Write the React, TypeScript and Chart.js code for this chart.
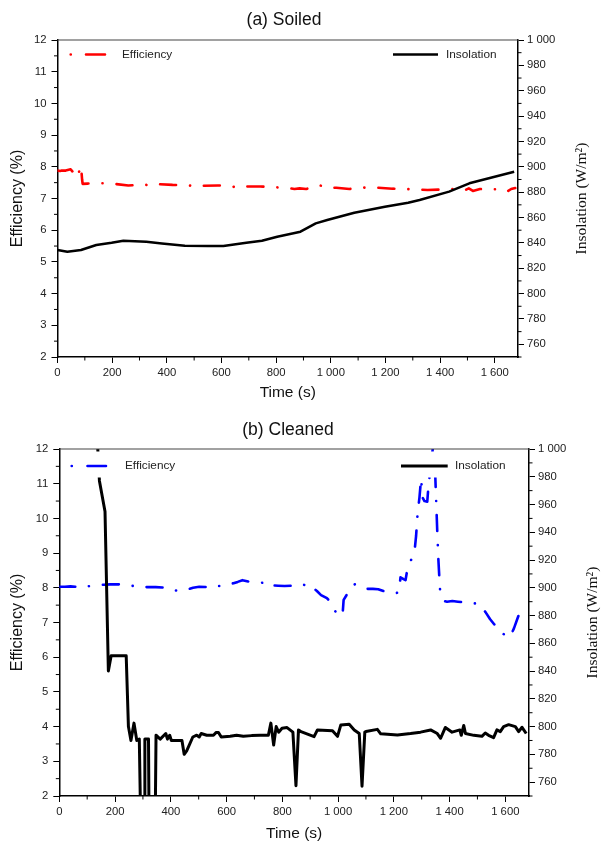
import React, { useEffect, useRef } from 'react';
import { Chart, registerables } from 'chart.js';

Chart.register(...registerables);

// ---------- (a) Soiled ----------
const soiledEffTime = [0, 10, 15, 30, 48, 55, 62, 70, 78, 86, 90, 92, 110, 143, 170, 190, 210, 259, 280, 307, 320, 330, 340, 355, 372, 421, 472, 490, 505, 520, 535, 587, 636, 650, 665, 680, 697, 742, 788, 820, 850, 867, 886, 910, 959, 980, 1000, 1020, 1068, 1111, 1140, 1172, 1226, 1275, 1310, 1354, 1397, 1440, 1474, 1490, 1505, 1520, 1546, 1573, 1616, 1635, 1645, 1660, 1675];
const soiledEfficiency = [7.88, 7.87, 7.88, 7.88, 7.92, 7.85, 7.74, 7.9, 7.82, 8.03, 7.6, 7.46, 7.47, 7.48, 7.48, 7.47, 7.46, 7.41, 7.42, 7.42, 7.44, 7.42, 7.46, 7.44, 7.45, 7.43, 7.42, 7.4, 7.42, 7.38, 7.4, 7.41, 7.4, 7.35, 7.38, 7.36, 7.38, 7.38, 7.36, 7.34, 7.32, 7.3, 7.32, 7.3, 7.42, 7.35, 7.34, 7.34, 7.3, 7.35, 7.33, 7.34, 7.31, 7.3, 7.28, 7.27, 7.28, 7.3, 7.3, 7.26, 7.32, 7.24, 7.3, 7.28, 7.3, 7.27, 7.22, 7.3, 7.33];
const soiledInsTime = [0, 36, 86, 142, 198, 241, 325, 382, 466, 551, 607, 691, 748, 804, 889, 945, 987, 1086, 1198, 1283, 1325, 1433, 1507, 1671];
const soiledInsolation = [834.4, 833.0, 834.4, 838.3, 840.1, 841.7, 840.9, 839.6, 837.8, 837.5, 837.5, 840.1, 841.7, 844.9, 848.8, 855.4, 858.0, 863.8, 868.5, 871.7, 873.8, 880.4, 887.0, 896.1];

// ---------- (b) Cleaned ----------
const cleanedEffTime = [0, 20, 40, 60, 80, 90, 100, 120, 134, 160, 182, 200, 224, 240, 255, 270, 284, 320, 346, 370, 391, 410, 430, 450, 463, 480, 502, 530, 547, 560, 575, 590, 610, 625, 640, 657, 680, 703, 720, 735, 745, 752, 763, 785, 808, 835, 865, 880, 895, 907, 925, 939, 960, 972, 985, 995, 1011, 1016, 1020, 1035, 1044, 1060, 1075, 1090, 1104, 1125, 1144, 1165, 1188, 1205, 1218, 1224, 1235, 1242, 1250, 1265, 1275, 1280, 1285, 1292, 1298, 1303, 1310, 1320, 1325, 1333, 1341, 1348, 1352, 1356, 1360, 1364, 1367, 1380, 1391, 1410, 1430, 1450, 1463, 1485, 1505, 1529, 1545, 1560, 1577, 1590, 1605, 1618, 1631, 1643, 1655, 1664, 1675];
const cleanedEfficiency = [8.03, 8.03, 8.04, 8.03, 8.02, 8.0, 8.04, 8.06, 8.08, 8.09, 8.1, 8.1, 8.1, 8.1, 8.06, 8.05, 8.02, 8.02, 8.02, 8.01, 8.0, 7.93, 7.91, 7.93, 7.96, 8.0, 8.03, 8.02, 8.0, 8.05, 8.05, 8.1, 8.12, 8.13, 8.17, 8.22, 8.18, 8.15, 8.15, 8.14, 8.17, 8.1, 8.07, 8.06, 8.05, 8.06, 8.12, 8.08, 8.12, 8.03, 7.9, 7.79, 7.7, 7.6, 7.4, 7.25, 7.2, 7.2, 7.65, 7.85, 8.0, 8.1, 8.1, 8.02, 7.97, 7.97, 7.96, 7.9, 7.84, 7.85, 7.86, 8.3, 8.25, 8.22, 8.6, 8.85, 9.1, 9.5, 10.1, 10.6, 11.15, 10.6, 10.5, 10.48, 11.0, 11.5, 12.1, 11.4, 10.5, 9.6, 8.8, 8.2, 7.8, 7.62, 7.6, 7.62, 7.6, 7.58, 7.55, 7.55, 7.55, 7.3, 7.1, 6.95, 6.88, 6.7, 6.57, 6.6, 6.83, 7.1, 7.36, 7.38, 7.4];
const cleanedInsTime = [120, 144, 164, 176, 186, 240, 248, 257, 268, 278, 287, 292, 304, 307, 320, 322, 344, 347, 362, 382, 388, 396, 402, 440, 448, 457, 479, 493, 502, 509, 529, 553, 563, 571, 581, 613, 636, 660, 690, 720, 750, 759, 769, 778, 787, 799, 817, 838, 849, 858, 867, 914, 926, 980, 998, 1010, 1040, 1058, 1076, 1086, 1096, 1100, 1141, 1153, 1213, 1260, 1296, 1332, 1356, 1368, 1385, 1409, 1437, 1442, 1451, 1457, 1487, 1516, 1528, 1540, 1558, 1570, 1582, 1594, 1612, 1636, 1648, 1660, 1675];
const cleanedInsolation = [1070, 977, 955, 840, 851, 851, 800, 790, 802.5, 790, 791, 730, 730, 791, 791, 730, 730, 793.8, 791, 795, 791, 793.8, 790, 790, 780, 782.5, 792.5, 793.8, 792.5, 795, 793.8, 793.8, 795.8, 795.8, 792.5, 793, 793.8, 793, 793.5, 793.8, 793.8, 802.5, 786.7, 800, 796, 798.8, 799.3, 796, 757.4, 797.5, 796.4, 792.8, 797.6, 797, 793, 801.2, 801.7, 797.6, 795, 757, 796, 796.4, 798, 794.8, 794, 795, 796, 797.6, 795, 791.6, 799.4, 796, 797.6, 793.7, 800.8, 795, 793.7, 793, 795.4, 793.7, 792, 797.6, 796.4, 800, 801.4, 800, 796.4, 799.5, 795];

// ---------- ticks ----------
const xMajorTicks = [0, 200, 400, 600, 800, 1000, 1200, 1400, 1600];
const xMinorTicks = [100, 300, 500, 700, 900, 1100, 1300, 1500];
const effMajorTicks = [2, 3, 4, 5, 6, 7, 8, 9, 10, 11, 12];
const effMinorTicks = [2.5, 3.5, 4.5, 5.5, 6.5, 7.5, 8.5, 9.5, 10.5, 11.5];
const insMajorTicks = [760, 780, 800, 820, 840, 860, 880, 900, 920, 940, 960, 980, 1000];
const insMinorTicks = [750, 770, 790, 810, 830, 850, 870, 890, 910, 930, 950, 970, 990];

const SANS = "'Liberation Sans', Arial, Helvetica, sans-serif";
const SERIF = "'Liberation Serif', 'Times New Roman', serif";

function fmt(v: number): string {
  if (v >= 1000) {
    const th = Math.floor(v / 1000);
    const rest = String(Math.round(v % 1000)).padStart(3, '0');
    return th + ' ' + rest;
  }
  return String(v);
}

type Spec = {
  height: number;
  title: string;
  padTop: number;
  leftW: number;
  rightW: number;
  xH: number;
  effColor: string;
  insWidth: number;
  effT: number[];
  effV: number[];
  insT: number[];
  insV: number[];
  titleX: number;
  titleY: number;
  xTitleY: number;
  legendY: number;
  effDot: number;
  effDash: [number, number];
  effText: number;
  insLine: [number, number];
  insText: number;
  leftBox: [number, number];
  rightBox: [number, number];
};

const soiledSpec: Spec = {
  height: 410,
  title: '(a) Soiled',
  padTop: 40,
  leftW: 57.5,
  rightW: 84,
  xH: 53,
  effColor: '#ff0000',
  insWidth: 2.5,
  effT: soiledEffTime,
  effV: soiledEfficiency,
  insT: soiledInsTime,
  insV: soiledInsolation,
  titleX: 284,
  titleY: 20,
  xTitleY: 392.5,
  legendY: 54.5,
  effDot: 70.7,
  effDash: [86, 105],
  effText: 122,
  insLine: [393, 438],
  insText: 446,
  leftBox: [60, 190],
  rightBox: [385, 515],
};

const cleanedSpec: Spec = {
  height: 431,
  title: '(b) Cleaned',
  padTop: 39,
  leftW: 59.3,
  rightW: 73,
  xH: 45,
  effColor: '#0000ff',
  insWidth: 3,
  effT: cleanedEffTime,
  effV: cleanedEfficiency,
  insT: cleanedInsTime,
  insV: cleanedInsolation,
  titleX: 288,
  titleY: 20,
  xTitleY: 423.3,
  legendY: 56,
  effDot: 71.7,
  effDash: [87.5, 106],
  effText: 125,
  insLine: [401, 447.7],
  insText: 455,
  leftBox: [62, 190],
  rightBox: [392, 525],
};

function makeDecor(spec: Spec) {
  return {
    id: 'decor',
    afterDatasetsDraw(chart: any) {
      const ctx = chart.ctx;
      const ca = chart.chartArea;
      const y = spec.legendY;
      ctx.save();
      // legend boxes
      ctx.fillStyle = '#ffffff';
      ctx.fillRect(spec.leftBox[0], ca.top + 2.5, spec.leftBox[1] - spec.leftBox[0], 26);
      ctx.fillRect(spec.rightBox[0], ca.top + 2.5, spec.rightBox[1] - spec.rightBox[0], 26);
      // efficiency sample
      ctx.strokeStyle = spec.effColor;
      ctx.lineWidth = 2.6;
      ctx.lineCap = 'round';
      ctx.beginPath();
      ctx.moveTo(spec.effDot, y);
      ctx.lineTo(spec.effDot + 0.1, y);
      ctx.moveTo(spec.effDash[0], y);
      ctx.lineTo(spec.effDash[1], y);
      ctx.stroke();
      // insolation sample
      ctx.strokeStyle = '#000';
      ctx.lineWidth = spec.insWidth;
      ctx.lineCap = 'butt';
      ctx.beginPath();
      ctx.moveTo(spec.insLine[0], y);
      ctx.lineTo(spec.insLine[1], y);
      ctx.stroke();
      ctx.fillStyle = '#222';
      ctx.font = `11.8px ${SANS}`;
      ctx.textBaseline = 'middle';
      ctx.textAlign = 'left';
      ctx.fillText('Efficiency', spec.effText, y);
      ctx.fillText('Insolation', spec.insText, y);
      ctx.restore();
    },
    afterDraw(chart: any) {
      const ctx = chart.ctx;
      const ca = chart.chartArea;
      const sx = chart.scales.x;
      const sy = chart.scales.y;
      const sy1 = chart.scales.y1;
      ctx.save();
      // top frame line
      ctx.strokeStyle = '#444';
      ctx.lineWidth = 1.2;
      ctx.beginPath();
      ctx.moveTo(ca.left, ca.top);
      ctx.lineTo(ca.right, ca.top);
      ctx.stroke();
      // minor ticks
      ctx.strokeStyle = '#000';
      ctx.lineWidth = 1;
      ctx.beginPath();
      xMinorTicks.forEach((v) => {
        const px = sx.getPixelForValue(v);
        ctx.moveTo(px, ca.bottom);
        ctx.lineTo(px, ca.bottom + 3.5);
      });
      effMinorTicks.forEach((v) => {
        const py = sy.getPixelForValue(v);
        ctx.moveTo(ca.left, py);
        ctx.lineTo(ca.left - 3.5, py);
      });
      insMinorTicks.forEach((v) => {
        const py = sy1.getPixelForValue(v);
        ctx.moveTo(ca.right, py);
        ctx.lineTo(ca.right + 3.5, py);
      });
      ctx.stroke();
      // title
      ctx.fillStyle = '#111';
      ctx.textBaseline = 'middle';
      ctx.textAlign = 'center';
      ctx.font = `17.5px ${SANS}`;
      ctx.fillText(spec.title, spec.titleX, spec.titleY);
      // x title
      ctx.font = `15.5px ${SANS}`;
      ctx.fillText('Time (s)', (ca.left + ca.right) / 2, spec.xTitleY);
      // left title
      const midY = (ca.top + ca.bottom) / 2;
      ctx.save();
      ctx.translate(17.5, midY);
      ctx.rotate(-Math.PI / 2);
      ctx.font = `16px ${SANS}`;
      ctx.fillText('Efficiency (%)', 0, 0);
      ctx.restore();
      // right title
      ctx.save();
      ctx.translate(ca.right + 64, midY);
      ctx.rotate(-Math.PI / 2);
      ctx.font = `15.5px ${SERIF}`;
      ctx.fillText('Insolation (W/m²)', 0, 0);
      ctx.restore();
      ctx.restore();
    },
  };
}

function makeConfig(spec: Spec): any {
  const effPts = spec.effT.map((t, i) => ({ x: t, y: spec.effV[i] }));
  const insPts = spec.insT.map((t, i) => ({ x: t, y: spec.insV[i] }));
  const tickFont = { family: SANS, size: 11.3 };
  const grid = { drawOnChartArea: false, drawTicks: true, tickLength: 6, color: '#000', lineWidth: 1 };
  const border = { display: true, color: '#000', width: 1.5 };
  return {
    type: 'line',
    data: {
      datasets: [
        {
          label: 'Insolation',
          data: insPts,
          yAxisID: 'y1',
          borderColor: '#000',
          borderWidth: spec.insWidth,
          borderJoinStyle: 'round',
          pointRadius: 0,
          tension: 0,
          fill: false,
        },
        {
          label: 'Efficiency',
          data: effPts,
          yAxisID: 'y',
          borderColor: spec.effColor,
          borderWidth: 2.6,
          borderDash: [16, 14, 0.1, 14],
          borderCapStyle: 'round',
          borderJoinStyle: 'round',
          pointRadius: 0,
          tension: 0,
          fill: false,
        },
      ],
    },
    options: {
      animation: false,
      responsive: false,
      events: [],
      layout: { padding: { top: spec.padTop, left: 0, right: 0, bottom: 0 } },
      plugins: { legend: { display: false }, title: { display: false }, tooltip: { enabled: false } },
      scales: {
        x: {
          type: 'linear',
          min: 0,
          max: 1685,
          afterBuildTicks: (s: any) => {
            s.ticks = xMajorTicks.map((v) => ({ value: v }));
          },
          afterFit: (s: any) => {
            s.height = spec.xH;
          },
          grid,
          border,
          ticks: { font: tickFont, color: '#222', padding: 3, maxRotation: 0, autoSkip: false, callback: (v: any) => fmt(Number(v)) },
        },
        y: {
          type: 'linear',
          position: 'left',
          min: 2,
          max: 12,
          afterBuildTicks: (s: any) => {
            s.ticks = effMajorTicks.map((v) => ({ value: v }));
          },
          afterFit: (s: any) => {
            s.width = spec.leftW;
          },
          grid,
          border,
          ticks: { font: tickFont, color: '#222', padding: 5, autoSkip: false, callback: (v: any) => fmt(Number(v)) },
        },
        y1: {
          type: 'linear',
          position: 'right',
          min: 750,
          max: 1000,
          afterBuildTicks: (s: any) => {
            s.ticks = insMajorTicks.map((v) => ({ value: v }));
          },
          afterFit: (s: any) => {
            s.width = spec.rightW;
          },
          grid,
          border,
          ticks: { font: tickFont, color: '#222', padding: 3, autoSkip: false, callback: (v: any) => fmt(Number(v)) },
        },
      },
    },
    plugins: [makeDecor(spec)],
  };
}

function Panel({ spec }: { spec: Spec }) {
  const ref = useRef<HTMLCanvasElement>(null);
  useEffect(() => {
    if (!ref.current) return;
    const chart = new Chart(ref.current, makeConfig(spec));
    return () => chart.destroy();
  }, [spec]);
  return <canvas ref={ref} width={602} height={spec.height} style={{ display: 'block', width: 602, height: spec.height }} />;
}

export default function App() {
  return (
    <div style={{ position: 'absolute', left: 0, top: 0, width: 602, height: 841, background: '#fff', overflow: 'hidden' }}>
      <Panel spec={soiledSpec} />
      <Panel spec={cleanedSpec} />
    </div>
  );
}
